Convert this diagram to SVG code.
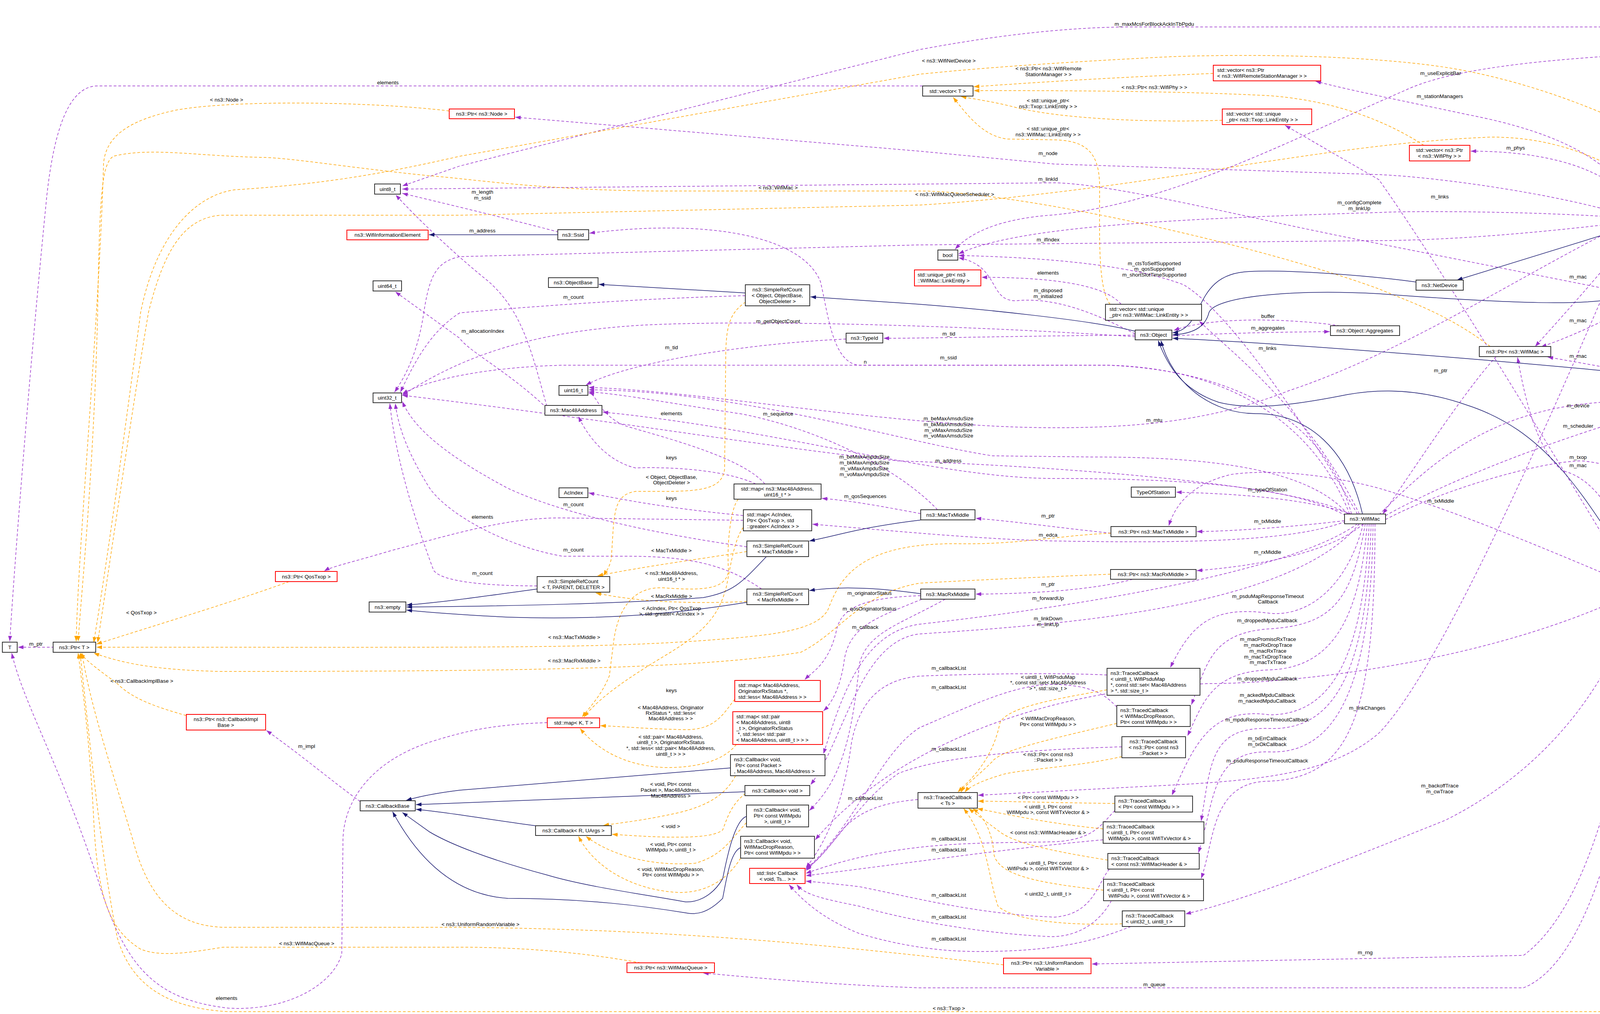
<svg xmlns="http://www.w3.org/2000/svg" width="4707" height="2596" viewBox="0 0 4707 2596">
<style>
text{font-family:"Liberation Sans",Arial,sans-serif;font-size:13.5px;fill:#000}
.lb{text-anchor:middle}
.c{text-anchor:middle}
.n rect{fill:#fff;stroke:#333;stroke-width:2}
.r rect{fill:#fff;stroke:#f00;stroke-width:2}
.g rect{fill:#bfbfbf;stroke:#333;stroke-width:2}
.p{fill:none;stroke:#9a32cd;stroke-width:1.5;stroke-dasharray:7,5;marker-end:url(#ap)}
.o{fill:none;stroke:#ffa500;stroke-width:1.5;stroke-dasharray:7,5;marker-end:url(#ao)}
.s{fill:none;stroke:#191970;stroke-width:1.5;marker-end:url(#as)}
</style>
<defs>
<marker id="ap" markerUnits="userSpaceOnUse" markerWidth="15" markerHeight="11" refX="14" refY="5" orient="auto"><path d="M0,0L14,5L0,10z" fill="#9a32cd"/></marker>
<marker id="ao" markerUnits="userSpaceOnUse" markerWidth="15" markerHeight="11" refX="14" refY="5" orient="auto"><path d="M0,0L14,5L0,10z" fill="#ffa500"/></marker>
<marker id="as" markerUnits="userSpaceOnUse" markerWidth="15" markerHeight="11" refX="14" refY="5" orient="auto"><path d="M0,0L14,5L0,10z" fill="#191970"/></marker>
</defs>
<rect width="4707" height="2596" fill="#fff"/>
<g id="edges">
<path class="p" d="M4570,114C4520,60 4400,25 4250,19"/>
<path class="p" d="M4545,139C4480,160 4350,175 4247,177"/>
<path class="p" d="M4540,114C4450,90 4300,69 4200,69L2900,69C2700,69 2500,100 2354,127L1177,425L1030,476"/>
<path class="p" d="M4485,127C4100,140 3750,160 3600,230C3300,360 3000,520 2700,550C2550,560 2480,600 2445,638"/>
<path class="p" d="M4475,565L4287,565"/>
<path class="p" d="M4195,552C4150,420 4000,340 3755,293C3600,260 3450,230 3368,208"/>
<path class="p" d="M4200,552C4150,450 4000,387 3765,387"/>
<path class="p" d="M4165,552C4000,500 3700,455 3531,447L2700,420L2354,387L1319,300"/>
<path class="p" d="M4140,745L3530,624C3200,560 2850,470 2700,468L1030,484"/>
<path class="p" d="M4138,556C3900,540 3600,540 3531,544C3000,560 2600,580 2454,650"/>
<path class="p" d="M4138,572C3900,600 3700,615 3530,616L2354,627L1177,657C1120,670 1100,700 1085,800C1070,900 1040,960 1010,1004"/>
<path class="p" d="M4195,578C4100,700 3990,820 3930,887"/>
<path class="p" d="M4195,769C4120,820 4000,870 3945,888"/>
<path class="p" d="M4130,944L3962,914"/>
<path class="p" d="M3830,913C3750,1000 3620,1200 3540,1316"/>
<path class="p" d="M3530,1318C3650,1200 3800,1050 4100,1030C4300,1000 4350,950 4390,860L4575,580"/>
<path class="p" d="M3547,1320C3800,1180 4200,1050 4510,979"/>
<path class="p" d="M3547,1330C3700,1250 3950,1180 4050,1180C4250,1200 4450,1350 4566,1496"/>
<path class="p" d="M4205,1498C4150,1350 4100,1230 4000,1205C3930,1150 3900,1000 3885,915"/>
<path class="p" d="M4506,1511L4256,1511"/>
<path class="p" d="M4483,957L4319,957"/>
<path class="p" d="M4176,1498C3900,1380 3700,1300 3530,1250C3400,1215 3250,1200 3150,1215C3050,1240 3010,1290 2992,1346"/>
<path class="p" d="M4180,1498C4000,1200 3700,700 3530,460L3290,321"/>
<path class="p" d="M4190,1524C4140,1700 4000,1950 3700,2100C3400,2220 3200,2300 3035,2340"/>
<path class="p" d="M4200,1524C4180,1800 4100,2300 3900,2446L2795,2468"/>
<path class="p" d="M4215,1524C4200,1900 4100,2450 3900,2529L2354,2529C2100,2520 1900,2500 1800,2491"/>
<path class="p" d="M3460,1316C3350,1280 3200,1265 3011,1260"/>
<path class="p" d="M3442,1333C3300,1350 3150,1360 3064,1361"/>
<path class="p" d="M3490,1341C3400,1420 3200,1450 3064,1461"/>
<path class="p" d="M3475,1341C3300,1470 2700,1560 2354,1598C2200,1620 2150,1800 2108,1930"/>
<path class="p" d="M3480,1341C3300,1560 2700,1600 2354,1623C2200,1640 2160,1900 2075,2009"/>
<path class="p" d="M2420,1534C2300,1600 2220,1620 2200,1700C2180,1900 2150,2000 2072,2075"/>
<path class="p" d="M3490,1341C3450,1500 3350,1580 3250,1570C3100,1550 3050,1600 2996,1709"/>
<path class="p" d="M3495,1341C3460,1550 3400,1600 3250,1610C3100,1620 3090,1700 3050,1804"/>
<path class="p" d="M4176,1520C3800,1700 3300,1750 3100,1750C2700,1760 2300,1900 2087,2150"/>
<path class="p" d="M3500,1341C3480,1600 3400,1710 3250,1715C3100,1720 3080,1800 3040,1884"/>
<path class="p" d="M3505,1341C3490,1700 3400,1830 3250,1830C3100,1810 3060,1900 3000,2036"/>
<path class="p" d="M3510,1341C3500,1750 3400,1870 3250,1865C3100,1860 3100,1950 3075,2102"/>
<path class="p" d="M3515,1341C3510,1800 3400,1930 3250,1925C3100,1920 3110,2050 3068,2183"/>
<path class="p" d="M3520,1341C3520,1850 3450,1990 3250,2000C3100,2000 3110,2150 3075,2249"/>
<path class="p" d="M4180,578C4000,1000 3700,1700 3531,1876C3400,1990 3200,2000 2900,2015L2504,2036"/>
<path class="p" d="M3445,1320C3300,1240 3000,1225 2700,1225C2400,1225 2000,1100 1543,1055"/>
<path class="p" d="M3450,1316C3350,1200 3100,1170 2800,1170L2541,1167C2300,1130 1900,1000 1507,998"/>
<path class="p" d="M3455,1316C3300,1230 2600,1190 2300,1180C2000,1150 1600,1080 1030,1012"/>
<path class="p" d="M4150,578C3900,700 3600,900 3300,1000C3100,1080 2900,1095 2700,1095C2300,1095 1800,1000 1507,992"/>
<path class="p" d="M3460,1316C3400,1100 3200,950 2835,935L2200,935C2130,930 2120,800 2100,720C2050,600 1800,560 1509,597"/>
<path class="p" d="M3455,1316C3350,1050 3100,940 2835,935L1440,935C1250,940 1100,970 1030,1008"/>
<path class="p" d="M3475,1316C3350,1100 3150,800 3030,729C2900,680 2700,660 2454,654"/>
<path class="p" d="M2906,855C2800,800 2700,760 2600,770C2530,770 2560,680 2454,660"/>
<path class="p" d="M2870,779C2830,730 2700,710 2513,710"/>
<path class="p" d="M3480,1316C3350,1050 3150,900 3070,822"/>
<path class="p" d="M3430,834C3300,815 3100,810 3005,846"/>
<path class="p" d="M3002,860C3150,852 3300,850 3404,849"/>
<path class="p" d="M2906,858C2600,860 2400,866 2262,866"/>
<path class="p" d="M2906,862C2500,835 2000,820 1700,830C1400,840 1200,900 1030,1012"/>
<path class="p" d="M2166,868C1900,880 1600,930 1500,986"/>
<path class="p" d="M1400,1040C1360,900 1340,800 1250,720C1150,640 1050,540 1013,499"/>
<path class="p" d="M1430,594C1300,560 1177,530 1030,495"/>
<path class="p" d="M1400,1045C1300,950 1200,900 1177,866L1012,747"/>
<path class="p" d="M1908,757C1600,765 1300,790 1177,801C1100,850 1060,930 1025,1004"/>
<path class="p" d="M1375,1500C1250,1500 1130,1490 1110,1460C1050,1300 1010,1150 998,1033"/>
<path class="p" d="M1912,1400C1700,1370 1450,1320 1300,1250C1150,1170 1060,1100 1030,1028"/>
<path class="p" d="M1950,1508C1850,1440 1750,1424 1600,1424L1440,1424C1300,1400 1150,1320 1100,1250C1050,1170 1020,1100 1012,1033"/>
<path class="p" d="M2844,1365C2700,1350 2600,1335 2498,1327"/>
<path class="p" d="M2900,1483C2800,1510 2650,1520 2498,1521"/>
<path class="p" d="M2400,1305C2300,1200 2100,1100 1900,1060C1700,1030 1600,1010 1507,1003"/>
<path class="p" d="M2357,1315C2250,1295 2180,1282 2104,1276"/>
<path class="p" d="M1935,1239C1850,1200 1700,1195 1627,1198C1550,1180 1500,1110 1481,1066"/>
<path class="p" d="M1958,1239C1900,1170 1700,1120 1600,1090C1530,1060 1530,1010 1507,1006"/>
<path class="p" d="M1903,1320C1700,1300 1600,1280 1507,1262"/>
<path class="p" d="M1903,1332L1440,1326C1300,1325 1177,1363 1000,1410C900,1440 850,1450 830,1462"/>
<path class="p" d="M3445,1335C3300,1390 3000,1390 2700,1385C2500,1380 2300,1360 2080,1342"/>
<path class="p" d="M2357,1525C2200,1530 2150,1560 2140,1620C2120,1700 2080,1720 2060,1740"/>
<path class="p" d="M2360,1534C2250,1580 2170,1600 2160,1700C2150,1760 2130,1800 2108,1820"/>
<path class="p" d="M1401,1850C1250,1855 1177,1876 1100,1900C950,1950 880,2050 878,2150L875,2440C860,2510 750,2590 585,2581C400,2560 320,2480 250,2250C150,1950 60,1800 30,1672"/>
<path class="p" d="M2350,2047C2250,2055 2200,2080 2160,2120C2120,2170 2100,2200 2063,2224"/>
<path class="p" d="M2834,1728C2700,1722 2500,1725 2354,1731C2250,1740 2200,1800 2180,1900C2160,2050 2120,2150 2063,2222"/>
<path class="p" d="M2859,1810C2830,1780 2800,1755 2700,1752C2600,1752 2500,1800 2354,1863C2250,1930 2200,2100 2063,2226"/>
<path class="p" d="M2872,1912C2600,1920 2400,1940 2300,1980C2200,2050 2150,2150 2063,2229"/>
<path class="p" d="M2854,2075C2820,2110 2800,2150 2700,2155C2500,2160 2300,2150 2063,2236"/>
<path class="p" d="M2824,2150C2600,2170 2400,2200 2063,2242"/>
<path class="p" d="M2840,2225C2810,2260 2800,2340 2700,2348C2500,2340 2350,2300 2200,2270C2130,2262 2090,2258 2063,2256"/>
<path class="p" d="M2845,2306C2810,2370 2750,2398 2692,2398C2500,2390 2300,2350 2200,2320C2100,2300 2060,2290 2040,2265"/>
<path class="p" d="M2895,2372C2800,2410 2700,2436 2504,2436C2400,2436 2300,2420 2200,2390C2100,2350 2050,2300 2020,2265"/>
<path class="p" d="M922,2052C850,2000 780,1940 682,1870"/>
<path class="p" d="M175,1657L46,1657"/>
<path class="p" d="M2362,220L250,220C180,220 140,320 120,500C80,900 40,1400 25,1642"/>
<path class="o" d="M3106,188C2800,200 2600,215 2493,222"/>
<path class="o" d="M3645,372C3580,330 3450,260 3250,245C3000,232 2700,232 2493,232"/>
<path class="o" d="M3129,308C2900,315 2700,300 2600,275C2550,262 2520,258 2460,247"/>
<path class="o" d="M2842,779C2810,740 2815,600 2815,480C2815,400 2790,360 2700,358L2580,356C2520,350 2480,300 2440,249"/>
<path class="o" d="M1150,284C950,260 600,255 450,282C320,310 270,354 265,420C255,800 200,1400 195,1642"/>
<path class="o" d="M3815,887C3700,800 3600,770 3531,740C3200,620 2600,490 2354,489L1700,489C1400,489 1177,455 1100,450C900,430 750,405 676,403C500,400 390,376 290,400C260,420 255,500 250,800C240,1200 210,1500 200,1642"/>
<path class="o" d="M4573,937C4520,800 4400,600 4300,540C4150,420 4000,350 3815,351C3600,360 3400,390 3200,420C2900,470 2600,510 2354,525L1177,551L563,551C470,560 420,640 380,800C330,1100 280,1450 250,1645"/>
<path class="o" d="M4566,552C4400,430 4100,250 3755,182C3600,150 3300,135 3000,145C2700,160 2500,175 2354,190L1177,400C1000,440 850,470 600,486C500,500 400,600 360,800C320,1100 280,1400 240,1645"/>
<path class="o" d="M2844,1365C2700,1372 2600,1395 2450,1392C2200,1390 2150,1480 2120,1560C2090,1620 1950,1628 1800,1640C1500,1660 1300,1657 247,1657"/>
<path class="o" d="M2843,1470C2600,1480 2400,1490 2354,1493C2200,1520 2150,1620 2050,1670C1800,1710 1400,1719 563,1719C400,1715 320,1700 240,1672"/>
<path class="o" d="M740,1489C600,1540 400,1600 247,1649"/>
<path class="o" d="M477,1832C400,1810 340,1790 300,1750C260,1720 230,1700 205,1672"/>
<path class="o" d="M2569,2470C2200,2430 1800,2380 1177,2374L571,2374C450,2370 380,2300 340,2150C280,1950 230,1800 210,1672"/>
<path class="o" d="M1640,2465C1500,2440 1350,2425 1177,2425L571,2425C480,2440 410,2450 360,2430C280,2380 250,2300 240,2100C230,1900 210,1750 200,1672"/>
<path class="o" d="M4585,1524C4560,1800 4500,2200 4400,2450C4330,2570 4280,2590 4200,2590L585,2590C400,2580 330,2500 300,2400C260,2200 230,1900 205,1672"/>
<path class="o" d="M1909,773C1870,800 1860,830 1858,900L1855,1200C1850,1250 1800,1258 1700,1258L1627,1258C1580,1265 1575,1300 1570,1350L1565,1430C1560,1455 1550,1465 1545,1474"/>
<path class="o" d="M1912,1412C1800,1430 1650,1450 1530,1474"/>
<path class="o" d="M1912,1540C1800,1545 1650,1545 1525,1518"/>
<path class="o" d="M1890,1278C1870,1300 1860,1400 1865,1460C1860,1510 1800,1512 1700,1505C1620,1500 1580,1560 1570,1650L1560,1730C1540,1780 1510,1810 1490,1836"/>
<path class="o" d="M1903,1350C1880,1380 1870,1450 1860,1500C1840,1580 1800,1620 1700,1680C1600,1740 1530,1790 1495,1836"/>
<path class="o" d="M1881,1790C1850,1830 1830,1870 1750,1868C1650,1866 1600,1860 1537,1858"/>
<path class="o" d="M1885,1906C1850,1950 1780,1966 1700,1965C1600,1960 1530,1920 1485,1865"/>
<path class="o" d="M1883,1986C1860,2030 1820,2060 1740,2080C1650,2100 1600,2105 1545,2113"/>
<path class="o" d="M1909,2031C1870,2060 1860,2100 1850,2125C1820,2150 1700,2145 1567,2136"/>
<path class="o" d="M1911,2106C1870,2150 1850,2190 1780,2210C1650,2220 1550,2180 1500,2141"/>
<path class="o" d="M1896,2197C1870,2240 1820,2285 1740,2285C1620,2280 1520,2220 1481,2141"/>
<path class="o" d="M2834,1766C2700,1790 2580,1810 2560,1850C2540,1950 2480,2000 2452,2028"/>
<path class="o" d="M2859,1852C2700,1890 2560,1920 2540,1950C2500,1990 2470,2010 2460,2028"/>
<path class="o" d="M2872,1937C2750,1965 2600,1970 2560,1985C2510,2000 2480,2015 2470,2028"/>
<path class="o" d="M2854,2057C2700,2055 2600,2052 2504,2051"/>
<path class="o" d="M2824,2122C2700,2110 2600,2090 2502,2070"/>
<path class="o" d="M2836,2202C2700,2180 2600,2160 2560,2130C2520,2100 2500,2085 2480,2070"/>
<path class="o" d="M2825,2279C2650,2260 2560,2240 2545,2190C2540,2130 2520,2090 2490,2070"/>
<path class="o" d="M2873,2365C2750,2370 2600,2360 2555,2320C2530,2250 2530,2150 2467,2070"/>
<path class="s" d="M4578,139L4224,745"/>
<path class="s" d="M4180,578L3730,717"/>
<path class="s" d="M3625,722C3500,705 3300,690 3200,695C3050,700 3090,840 3002,852"/>
<path class="s" d="M4138,765C4050,780 3900,780 3530,752C3300,740 3110,760 3095,800C3085,840 3050,855 3002,857"/>
<path class="s" d="M4105,949C3800,920 3300,880 3002,866"/>
<path class="s" d="M3488,1316C3450,1150 3350,1060 3217,1059C3100,1060 3000,980 2972,872"/>
<path class="s" d="M4198,1498C4050,1250 3950,1100 3755,1037C3650,1000 3550,992 3450,1010C3300,1040 3200,1050 3120,1030C3030,1000 2990,940 2965,872"/>
<path class="s" d="M2906,848C2800,820 2500,790 2354,779L2075,760"/>
<path class="s" d="M1908,750L1533,728"/>
<path class="s" d="M1428,601L1098,601"/>
<path class="s" d="M2360,1331C2200,1350 2150,1370 2072,1385"/>
<path class="s" d="M2357,1520C2250,1505 2150,1500 2072,1512"/>
<path class="s" d="M1962,1425C1900,1490 1880,1515 1800,1530C1600,1545 1300,1552 1041,1554"/>
<path class="s" d="M1375,1508C1250,1525 1150,1540 1041,1549"/>
<path class="s" d="M1912,1542C1800,1560 1600,1590 1300,1580C1200,1575 1100,1568 1041,1562"/>
<path class="s" d="M1870,1966L1177,2023C1120,2030 1070,2040 1040,2049"/>
<path class="s" d="M1907,2027L1065,2060"/>
<path class="s" d="M1371,2114C1250,2098 1150,2080 1065,2072"/>
<path class="s" d="M1911,2090C1880,2100 1860,2200 1850,2250C1820,2300 1780,2310 1755,2309C1650,2290 1500,2270 1400,2240C1250,2200 1150,2160 1100,2130L1030,2080"/>
<path class="s" d="M1896,2170C1870,2180 1860,2250 1850,2300C1810,2340 1780,2342 1755,2337C1650,2320 1500,2300 1300,2300C1150,2290 1060,2180 1005,2078"/>
</g>
<g id="labels">
<text class="lb" x="993" y="216">elements</text>
<text class="lb" x="580" y="260">&lt; ns3::Node &gt;</text>
<text class="lb" x="1235" y="496">m_length</text><text class="lb" x="1235" y="511">m_ssid</text>
<text class="lb" x="1235" y="595">m_address</text>
<text class="lb" x="1992" y="485">&lt; ns3::WifiMac &gt;</text>
<text class="lb" x="2444" y="502">&lt; ns3::WifiMacQueueScheduler &gt;</text>
<text class="lb" x="1468" y="765">m_count</text>
<text class="lb" x="1992" y="827">m_getObjectCount</text>
<text class="lb" x="1236" y="852">m_allocationIndex</text>
<text class="lb" x="2955" y="66">m_maxMcsForBlockAckInTbPpdu</text>
<text class="lb" x="2429" y="160">&lt; ns3::WifiNetDevice &gt;</text>
<text class="lb" x="2684" y="180">&lt; ns3::Ptr&lt; ns3::WifiRemote</text><text class="lb" x="2684" y="195">StationManager &gt; &gt;</text>
<text class="lb" x="2955" y="228">&lt; ns3::Ptr&lt; ns3::WifiPhy &gt; &gt;</text>
<text class="lb" x="2683" y="262">&lt; std::unique_ptr&lt;</text><text class="lb" x="2683" y="277">ns3::Txop::LinkEntity &gt; &gt;</text>
<text class="lb" x="2683" y="334">&lt; std::unique_ptr&lt;</text><text class="lb" x="2683" y="349">ns3::WifiMac::LinkEntity &gt; &gt;</text>
<text class="lb" x="2683" y="397">m_node</text>
<text class="lb" x="2683" y="463">m_linkId</text>
<text class="lb" x="3480" y="523">m_configComplete</text><text class="lb" x="3480" y="538">m_linkUp</text>
<text class="lb" x="2683" y="618">m_ifIndex</text>
<text class="lb" x="2955" y="679">m_ctsToSelfSupported</text><text class="lb" x="2955" y="693">m_qosSupported</text><text class="lb" x="2955" y="708">m_shortSlotTimeSupported</text>
<text class="lb" x="2683" y="703">elements</text>
<text class="lb" x="2683" y="748">m_disposed</text><text class="lb" x="2683" y="763">m_initialized</text>
<text class="lb" x="3246" y="814">buffer</text>
<text class="lb" x="3246" y="844">m_aggregates</text>
<text class="lb" x="2429" y="859">m_tid</text>
<text class="lb" x="4397" y="22">m_dlMuAckType</text>
<text class="lb" x="4397" y="155">m_baThreshold</text>
<text class="lb" x="3688" y="192">m_useExplicitBar</text>
<text class="lb" x="3686" y="251">m_stationManagers</text>
<text class="lb" x="3880" y="383">m_phys</text>
<text class="lb" x="3686" y="508">m_links</text>
<text class="lb" x="4397" y="561">m_ptr</text>
<text class="lb" x="4040" y="713">m_mac</text>
<text class="lb" x="4040" y="825">m_mac</text>
<text class="lb" x="4040" y="916">m_mac</text>
<text class="lb" x="4399" y="953">m_ptr</text>
<text class="lb" x="3688" y="953">m_ptr</text>
<text class="lb" x="4040" y="1043">m_device</text>
<text class="lb" x="4040" y="1095">m_scheduler</text>
<text class="lb" x="4040" y="1175">m_txop</text><text class="lb" x="4040" y="1196">m_mac</text>
<text class="lb" x="3688" y="1287">m_txMiddle</text>
<text class="lb" x="4399" y="1508">m_ptr</text>
<text class="lb" x="1719" y="894">m_tid</text>
<text class="lb" x="2215" y="931">n</text>
<text class="lb" x="1719" y="1063">elements</text>
<text class="lb" x="1992" y="1064">m_sequence</text>
<text class="lb" x="1719" y="1176">keys</text>
<text class="lb" x="2213" y="1174">m_beMaxAmpduSize</text><text class="lb" x="2213" y="1189">m_bkMaxAmpduSize</text><text class="lb" x="2213" y="1204">m_viMaxAmpduSize</text><text class="lb" x="2213" y="1219">m_voMaxAmpduSize</text>
<text class="lb" x="1719" y="1226">&lt; Object, ObjectBase,</text><text class="lb" x="1719" y="1240">ObjectDeleter &gt;</text>
<text class="lb" x="1719" y="1280">keys</text>
<text class="lb" x="2215" y="1275">m_qosSequences</text>
<text class="lb" x="1468" y="1296">m_count</text>
<text class="lb" x="1235" y="1328">elements</text>
<text class="lb" x="1468" y="1412">m_count</text>
<text class="lb" x="1719" y="1414">&lt; MacTxMiddle &gt;</text>
<text class="lb" x="1719" y="1472">&lt; ns3::Mac48Address,</text><text class="lb" x="1719" y="1487">uint16_t * &gt;</text>
<text class="lb" x="1235" y="1472">m_count</text>
<text class="lb" x="1719" y="1531">&lt; MacRxMiddle &gt;</text>
<text class="lb" x="1719" y="1562">&lt; AcIndex, Ptr&lt; QosTxop</text><text class="lb" x="1719" y="1576">&gt;, std::greater&lt; AcIndex &gt; &gt;</text>
<text class="lb" x="2226" y="1523">m_originatorStatus</text>
<text class="lb" x="2226" y="1563">m_qosOriginatorStatus</text>
<text class="lb" x="2215" y="1610">m_callback</text>
<text class="lb" x="1470" y="1636">&lt; ns3::MacTxMiddle &gt;</text>
<text class="lb" x="1470" y="1696">&lt; ns3::MacRxMiddle &gt;</text>
<text class="lb" x="3245" y="896">m_links</text>
<text class="lb" x="2428" y="920">m_ssid</text>
<text class="lb" x="2428" y="1076">m_beMaxAmsduSize</text><text class="lb" x="2428" y="1091">m_bkMaxAmsduSize</text><text class="lb" x="2428" y="1106">m_viMaxAmsduSize</text><text class="lb" x="2428" y="1120">m_voMaxAmsduSize</text>
<text class="lb" x="2955" y="1080">m_mtu</text>
<text class="lb" x="2428" y="1184">m_address</text>
<text class="lb" x="3245" y="1258">m_typeOfStation</text>
<text class="lb" x="2683" y="1325">m_ptr</text>
<text class="lb" x="3245" y="1339">m_txMiddle</text>
<text class="lb" x="2683" y="1374">m_edca</text>
<text class="lb" x="3245" y="1418">m_rxMiddle</text>
<text class="lb" x="2683" y="1500">m_ptr</text>
<text class="lb" x="2683" y="1536">m_forwardUp</text>
<text class="lb" x="3246" y="1531">m_psduMapResponseTimeout</text><text class="lb" x="3246" y="1545">Callback</text>
<text class="lb" x="2683" y="1588">m_linkDown</text><text class="lb" x="2683" y="1603">m_linkUp</text>
<text class="lb" x="3244" y="1593">m_droppedMpduCallback</text>
<text class="lb" x="3246" y="1641">m_macPromiscRxTrace</text><text class="lb" x="3246" y="1656">m_macRxDropTrace</text><text class="lb" x="3246" y="1671">m_macRxTrace</text><text class="lb" x="3246" y="1686">m_macTxDropTrace</text><text class="lb" x="3246" y="1700">m_macTxTrace</text>
<text class="lb" x="2429" y="1715">m_callbackList</text>
<text class="lb" x="362" y="1573">&lt; QosTxop &gt;</text>
<text class="lb" x="92" y="1653">m_ptr</text>
<text class="lb" x="363" y="1748">&lt; ns3::CallbackImplBase &gt;</text>
<text class="lb" x="785" y="1915">m_impl</text>
<text class="lb" x="1230" y="2371">&lt; ns3::UniformRandomVariable &gt;</text>
<text class="lb" x="785" y="2420">&lt; ns3::WifiMacQueue &gt;</text>
<text class="lb" x="580" y="2560">elements</text>
<text class="lb" x="1719" y="1772">keys</text>
<text class="lb" x="1717" y="1816">&lt; Mac48Address, Originator</text><text class="lb" x="1717" y="1830">RxStatus *, std::less&lt;</text><text class="lb" x="1717" y="1844">Mac48Address &gt; &gt;</text>
<text class="lb" x="1717" y="1891">&lt; std::pair&lt; Mac48Address,</text><text class="lb" x="1717" y="1905">uint8_t &gt;, OriginatorRxStatus</text><text class="lb" x="1717" y="1920">*, std::less&lt; std::pair&lt; Mac48Address,</text><text class="lb" x="1717" y="1935">uint8_t &gt; &gt; &gt;</text>
<text class="lb" x="1717" y="2012">&lt; void, Ptr&lt; const</text><text class="lb" x="1717" y="2027">Packet &gt;, Mac48Address,</text><text class="lb" x="1717" y="2042">Mac48Address &gt;</text>
<text class="lb" x="1717" y="2120">&lt; void &gt;</text>
<text class="lb" x="1717" y="2166">&lt; void, Ptr&lt; const</text><text class="lb" x="1717" y="2180">WifiMpdu &gt;, uint8_t &gt;</text>
<text class="lb" x="1717" y="2230">&lt; void, WifiMacDropReason,</text><text class="lb" x="1717" y="2244">Ptr&lt; const WifiMpdu &gt; &gt;</text>
<text class="lb" x="2215" y="2048">m_callbackList</text>
<text class="lb" x="2683" y="1738">&lt; uint8_t, WifiPsduMap</text><text class="lb" x="2683" y="1752">*, const std::set&lt; Mac48Address</text><text class="lb" x="2683" y="1767">&gt; *, std::size_t &gt;</text>
<text class="lb" x="3244" y="1742">m_droppedMpduCallback</text>
<text class="lb" x="2429" y="1764">m_callbackList</text>
<text class="lb" x="3244" y="1784">m_ackedMpduCallback</text><text class="lb" x="3244" y="1799">m_nackedMpduCallback</text>
<text class="lb" x="3500" y="1817">m_linkChanges</text>
<text class="lb" x="2683" y="1844">&lt; WifiMacDropReason,</text><text class="lb" x="2683" y="1859">Ptr&lt; const WifiMpdu &gt; &gt;</text>
<text class="lb" x="3244" y="1847">m_mpduResponseTimeoutCallback</text>
<text class="lb" x="3244" y="1895">m_txErrCallback</text><text class="lb" x="3244" y="1910">m_txOkCallback</text>
<text class="lb" x="2429" y="1922">m_callbackList</text>
<text class="lb" x="2683" y="1936">&lt; ns3::Ptr&lt; const ns3</text><text class="lb" x="2683" y="1950">::Packet &gt; &gt;</text>
<text class="lb" x="3244" y="1952">m_psduResponseTimeoutCallback</text>
<text class="lb" x="3686" y="2016">m_backoffTrace</text><text class="lb" x="3686" y="2031">m_cwTrace</text>
<text class="lb" x="2683" y="2046">&lt; Ptr&lt; const WifiMpdu &gt; &gt;</text>
<text class="lb" x="2683" y="2070">&lt; uint8_t, Ptr&lt; const</text><text class="lb" x="2683" y="2084">WifiMpdu &gt;, const WifiTxVector &amp; &gt;</text>
<text class="lb" x="2683" y="2136">&lt; const ns3::WifiMacHeader &amp; &gt;</text>
<text class="lb" x="2429" y="2152">m_callbackList</text>
<text class="lb" x="2429" y="2180">m_callbackList</text>
<text class="lb" x="2683" y="2214">&lt; uint8_t, Ptr&lt; const</text><text class="lb" x="2683" y="2228">WifiPsdu &gt;, const WifiTxVector &amp; &gt;</text>
<text class="lb" x="2683" y="2293">&lt; uint32_t, uint8_t &gt;</text>
<text class="lb" x="2429" y="2296">m_callbackList</text>
<text class="lb" x="2429" y="2352">m_callbackList</text>
<text class="lb" x="2429" y="2408">m_callbackList</text>
<text class="lb" x="3495" y="2443">m_rng</text>
<text class="lb" x="2955" y="2525">m_queue</text>
<text class="lb" x="2429" y="2586">&lt; ns3::Txop &gt;</text>
</g>
<g id="WifiDefaultAckManager" class="g"><rect x="4485" y="114" width="206" height="25"/><text class="c" x="4588" y="131">ns3::WifiDefaultAckManager</text></g>
<g id="Method" class="n"><rect x="4177" y="6" width="71" height="26"/><text class="c" x="4212" y="24">Method</text></g>
<g id="double" class="n"><rect x="4179" y="165" width="66" height="25"/><text class="c" x="4212" y="182">double</text></g>
<g id="vecPhy" class="r"><rect x="3608" y="372" width="155" height="40"/><text class="c" x="3685" y="389">std::vector&lt; ns3::Ptr<tspan x="3685" dy="15">&lt; ns3::WifiPhy &gt; &gt;</tspan></text></g>
<g id="WifiNetDevice" class="r"><rect x="4138" y="552" width="147" height="26"/><text class="c" x="4211" y="570">ns3::WifiNetDevice</text></g>
<g id="PtrWifiNetDevice" class="n"><rect x="4475" y="552" width="225" height="26"/><text class="c" x="4587" y="570">ns3::Ptr&lt; ns3::WifiNetDevice &gt;</text></g>
<g id="NetDevice" class="n"><rect x="3625" y="717" width="121" height="26"/><text class="c" x="3685" y="735">ns3::NetDevice</text></g>
<g id="WifiAckManager" class="n"><rect x="4133" y="745" width="157" height="24"/><text class="c" x="4211" y="762">ns3::WifiAckManager</text></g>
<g id="Aggregates" class="n"><rect x="3406" y="834" width="177" height="25"/><text class="c" x="3494" y="851">ns3::Object::Aggregates</text></g>
<g id="vectorT" class="n"><rect x="2362" y="220" width="129" height="26"/><text class="c" x="2426" y="238">std::vector&lt; T &gt;</text></g>
<g id="vecWRSM" class="r"><rect x="3106" y="167" width="275" height="40"/><text x="3116" y="184">std::vector&lt; ns3::Ptr<tspan x="3116" dy="15">&lt; ns3::WifiRemoteStationManager &gt; &gt;</tspan></text></g>
<g id="vecTxopLE" class="r"><rect x="3129" y="279" width="229" height="40"/><text x="3139" y="296">std::vector&lt; std::unique<tspan x="3139" dy="15">_ptr&lt; ns3::Txop::LinkEntity &gt; &gt;</tspan></text></g>
<g id="bool" class="n"><rect x="2401" y="640" width="51" height="26"/><text class="c" x="2426" y="658">bool</text></g>
<g id="upMacLE" class="r"><rect x="2341" y="691" width="170" height="41"/><text x="2349" y="708">std::unique_ptr&lt; ns3<tspan x="2349" dy="15">::WifiMac::LinkEntity &gt;</tspan></text></g>
<g id="vecMacLE" class="n"><rect x="2830" y="779" width="246" height="41"/><text x="2840" y="796">std::vector&lt; std::unique<tspan x="2840" dy="15">_ptr&lt; ns3::WifiMac::LinkEntity &gt; &gt;</tspan></text></g>
<g id="Object" class="n"><rect x="2906" y="845" width="94" height="25"/><text class="c" x="2953" y="862">ns3::Object</text></g>
<g id="PtrNode" class="r"><rect x="1150" y="279" width="167" height="25"/><text class="c" x="1233" y="296">ns3::Ptr&lt; ns3::Node &gt;</text></g>
<g id="Ssid" class="n"><rect x="1428" y="588" width="79" height="26"/><text class="c" x="1467" y="606">ns3::Ssid</text></g>
<g id="ObjectBase" class="n"><rect x="1404" y="711" width="127" height="25"/><text class="c" x="1467" y="728">ns3::ObjectBase</text></g>
<g id="SRCObject" class="n"><rect x="1908" y="729" width="165" height="54"/><text class="c" x="1990" y="746">ns3::SimpleRefCount<tspan x="1990" dy="15">&lt; Object, ObjectBase,</tspan><tspan x="1990" dy="15">ObjectDeleter &gt;</tspan></text></g>
<g id="TypeId" class="n"><rect x="2166" y="853" width="94" height="25"/><text class="c" x="2213" y="870">ns3::TypeId</text></g>
<g id="uint8_t" class="n"><rect x="959" y="471" width="66" height="26"/><text class="c" x="992" y="489">uint8_t</text></g>
<g id="WifiInformationElement" class="r"><rect x="888" y="589" width="208" height="25"/><text class="c" x="992" y="606">ns3::WifiInformationElement</text></g>
<g id="uint64_t" class="n"><rect x="955" y="719" width="73" height="26"/><text class="c" x="991" y="737">uint64_t</text></g>
<g id="uint32_t" class="n"><rect x="955" y="1006" width="73" height="25"/><text class="c" x="991" y="1023">uint32_t</text></g>
<g id="PtrQosTxop" class="r"><rect x="705" y="1463" width="158" height="26"/><text class="c" x="784" y="1481">ns3::Ptr&lt; QosTxop &gt;</text></g>
<g id="empty" class="n"><rect x="945" y="1541" width="94" height="26"/><text class="c" x="992" y="1559">ns3::empty</text></g>
<g id="T" class="n"><rect x="6" y="1644" width="38" height="26"/><text class="c" x="25" y="1662">T</text></g>
<g id="PtrT" class="n"><rect x="136" y="1644" width="109" height="26"/><text class="c" x="190" y="1662">ns3::Ptr&lt; T &gt;</text></g>
<g id="uint16_t" class="n"><rect x="1431" y="987" width="74" height="25"/><text class="c" x="1468" y="1004">uint16_t</text></g>
<g id="Mac48Address" class="n"><rect x="1395" y="1038" width="146" height="25"/><text class="c" x="1468" y="1055">ns3::Mac48Address</text></g>
<g id="AcIndex" class="n"><rect x="1431" y="1249" width="74" height="25"/><text class="c" x="1468" y="1266">AcIndex</text></g>
<g id="mapMacU16" class="n"><rect x="1879" y="1239" width="223" height="39"/><text class="c" x="1990" y="1256">std::map&lt; ns3::Mac48Address,<tspan x="1990" dy="15">uint16_t * &gt;</tspan></text></g>
<g id="mapAcIndex" class="n"><rect x="1903" y="1305" width="175" height="54"/><text x="1912" y="1322">std::map&lt; AcIndex,<tspan x="1912" dy="15">Ptr&lt; QosTxop &gt;, std</tspan><tspan x="1912" dy="15">::greater&lt; AcIndex &gt; &gt;</tspan></text></g>
<g id="SRCMacTx" class="n"><rect x="1912" y="1385" width="158" height="40"/><text class="c" x="1991" y="1402">ns3::SimpleRefCount<tspan x="1991" dy="15">&lt; MacTxMiddle &gt;</tspan></text></g>
<g id="SRCTPD" class="n"><rect x="1375" y="1476" width="186" height="40"/><text class="c" x="1468" y="1493">ns3::SimpleRefCount<tspan x="1468" dy="15">&lt; T, PARENT, DELETER &gt;</tspan></text></g>
<g id="SRCMacRx" class="n"><rect x="1912" y="1508" width="158" height="40"/><text class="c" x="1991" y="1525">ns3::SimpleRefCount<tspan x="1991" dy="15">&lt; MacRxMiddle &gt;</tspan></text></g>
<g id="MacTxMiddle" class="n"><rect x="2357" y="1305" width="139" height="26"/><text class="c" x="2426" y="1323">ns3::MacTxMiddle</text></g>
<g id="TypeOfStation" class="n"><rect x="2896" y="1247" width="113" height="26"/><text class="c" x="2952" y="1265">TypeOfStation</text></g>
<g id="PtrMacTx" class="n"><rect x="2844" y="1348" width="218" height="26"/><text class="c" x="2953" y="1366">ns3::Ptr&lt; ns3::MacTxMiddle &gt;</text></g>
<g id="PtrMacRx" class="n"><rect x="2843" y="1458" width="219" height="25"/><text class="c" x="2952" y="1475">ns3::Ptr&lt; ns3::MacRxMiddle &gt;</text></g>
<g id="MacRxMiddle" class="n"><rect x="2357" y="1508" width="139" height="26"/><text class="c" x="2426" y="1526">ns3::MacRxMiddle</text></g>
<g id="WifiMac" class="n"><rect x="3442" y="1316" width="105" height="25"/><text class="c" x="3494" y="1333">ns3::WifiMac</text></g>
<g id="TCPsduMap" class="n"><rect x="2834" y="1711" width="238" height="69"/><text x="2843" y="1728">ns3::TracedCallback<tspan x="2843" dy="15">&lt; uint8_t, WifiPsduMap</tspan><tspan x="2843" dy="15">*, const std::set&lt; Mac48Address</tspan><tspan x="2843" dy="15">&gt; *, std::size_t &gt;</tspan></text></g>
<g id="PtrWifiMac" class="n"><rect x="3787" y="887" width="183" height="26"/><text class="c" x="3878" y="905">ns3::Ptr&lt; ns3::WifiMac &gt;</text></g>
<g id="WifiMacQueueScheduler" class="n"><rect x="4105" y="944" width="212" height="26"/><text class="c" x="4211" y="962">ns3::WifiMacQueueScheduler</text></g>
<g id="PtrWMQS" class="n"><rect x="4483" y="937" width="210" height="41"/><text class="c" x="4588" y="954">ns3::Ptr&lt; ns3::WifiMacQueue<tspan x="4588" dy="15">Scheduler &gt;</tspan></text></g>
<g id="Txop" class="n"><rect x="4170" y="1498" width="84" height="26"/><text class="c" x="4212" y="1516">ns3::Txop</text></g>
<g id="PtrTxop" class="n"><rect x="4506" y="1498" width="163" height="26"/><text class="c" x="4587" y="1516">ns3::Ptr&lt; ns3::Txop &gt;</text></g>
<g id="PtrCallbackImplBase" class="r"><rect x="477" y="1829" width="203" height="40"/><text class="c" x="578" y="1846">ns3::Ptr&lt; ns3::CallbackImpl<tspan x="578" dy="15">Base &gt;</tspan></text></g>
<g id="CallbackBase" class="n"><rect x="922" y="2050" width="141" height="26"/><text class="c" x="992" y="2068">ns3::CallbackBase</text></g>
<g id="mapOrig" class="r"><rect x="1881" y="1742" width="219" height="54"/><text x="1890" y="1759">std::map&lt; Mac48Address,<tspan x="1890" dy="15">OriginatorRxStatus *,</tspan><tspan x="1890" dy="15">std::less&lt; Mac48Address &gt; &gt;</tspan></text></g>
<g id="mapKT" class="r"><rect x="1401" y="1838" width="134" height="25"/><text class="c" x="1468" y="1855">std::map&lt; K, T &gt;</text></g>
<g id="mapPair" class="r"><rect x="1876" y="1822" width="230" height="84"/><text x="1885" y="1839">std::map&lt; std::pair<tspan x="1885" dy="15">&lt; Mac48Address, uint8</tspan><tspan x="1885" dy="15">_t &gt;, OriginatorRxStatus</tspan><tspan x="1885" dy="15"> *, std::less&lt; std::pair</tspan><tspan x="1885" dy="15">&lt; Mac48Address, uint8_t &gt; &gt; &gt;</tspan></text></g>
<g id="CbPacket" class="n"><rect x="1870" y="1932" width="242" height="54"/><text x="1879" y="1949">ns3::Callback&lt; void,<tspan x="1879" dy="15"> Ptr&lt; const Packet &gt;</tspan><tspan x="1879" dy="15">, Mac48Address, Mac48Address &gt;</tspan></text></g>
<g id="CbVoid" class="n"><rect x="1907" y="2011" width="166" height="26"/><text class="c" x="1990" y="2029">ns3::Callback&lt; void &gt;</text></g>
<g id="CbMpdu" class="n"><rect x="1911" y="2061" width="159" height="56"/><text class="c" x="1990" y="2078">ns3::Callback&lt; void,<tspan x="1990" dy="15">Ptr&lt; const WifiMpdu</tspan><tspan x="1990" dy="15">&gt;, uint8_t &gt;</tspan></text></g>
<g id="CbRUArgs" class="n"><rect x="1371" y="2114" width="194" height="25"/><text class="c" x="1468" y="2131">ns3::Callback&lt; R, UArgs &gt;</text></g>
<g id="CbDrop" class="n"><rect x="1896" y="2141" width="189" height="56"/><text x="1905" y="2158">ns3::Callback&lt; void,<tspan x="1905" dy="15">WifiMacDropReason,</tspan><tspan x="1905" dy="15">Ptr&lt; const WifiMpdu &gt; &gt;</tspan></text></g>
<g id="listCallback" class="r"><rect x="1919" y="2223" width="142" height="39"/><text class="c" x="1990" y="2240">std::list&lt; Callback<tspan x="1990" dy="15">&lt; void, Ts... &gt; &gt;</tspan></text></g>
<g id="PtrWifiMacQueue" class="r"><rect x="1605" y="2465" width="224" height="25"/><text class="c" x="1717" y="2482">ns3::Ptr&lt; ns3::WifiMacQueue &gt;</text></g>
<g id="TCTs" class="n"><rect x="2350" y="2029" width="152" height="40"/><text class="c" x="2426" y="2046">ns3::TracedCallback<tspan x="2426" dy="15">&lt; Ts &gt;</tspan></text></g>
<g id="TCDrop" class="n"><rect x="2859" y="1806" width="188" height="54"/><text x="2868" y="1823">ns3::TracedCallback<tspan x="2868" dy="15">&lt; WifiMacDropReason,</tspan><tspan x="2868" dy="15">Ptr&lt; const WifiMpdu &gt; &gt;</tspan></text></g>
<g id="TCPacket" class="n"><rect x="2872" y="1886" width="163" height="54"/><text class="c" x="2953" y="1903">ns3::TracedCallback<tspan x="2953" dy="15">&lt; ns3::Ptr&lt; const ns3</tspan><tspan x="2953" dy="15">::Packet &gt; &gt;</tspan></text></g>
<g id="TCMpdu" class="n"><rect x="2854" y="2038" width="199" height="41"/><text x="2863" y="2055">ns3::TracedCallback<tspan x="2863" dy="15">&lt; Ptr&lt; const WifiMpdu &gt; &gt;</tspan></text></g>
<g id="TCMpduTx" class="n"><rect x="2824" y="2104" width="258" height="55"/><text x="2833" y="2121">ns3::TracedCallback<tspan x="2833" dy="15">&lt; uint8_t, Ptr&lt; const</tspan><tspan x="2833" dy="15"> WifiMpdu &gt;, const WifiTxVector &amp; &gt;</tspan></text></g>
<g id="TCHdr" class="n"><rect x="2836" y="2185" width="234" height="40"/><text x="2845" y="2202">ns3::TracedCallback<tspan x="2845" dy="15">&lt; const ns3::WifiMacHeader &amp; &gt;</tspan></text></g>
<g id="TCPsdu" class="n"><rect x="2825" y="2251" width="256" height="55"/><text x="2834" y="2268">ns3::TracedCallback<tspan x="2834" dy="15">&lt; uint8_t, Ptr&lt; const</tspan><tspan x="2834" dy="15"> WifiPsdu &gt;, const WifiTxVector &amp; &gt;</tspan></text></g>
<g id="TCU32" class="n"><rect x="2873" y="2332" width="160" height="40"/><text x="2882" y="2349">ns3::TracedCallback<tspan x="2882" dy="15">&lt; uint32_t, uint8_t &gt;</tspan></text></g>
<g id="PtrURV" class="r"><rect x="2569" y="2453" width="224" height="40"/><text class="c" x="2681" y="2470">ns3::Ptr&lt; ns3::UniformRandom<tspan x="2681" dy="15">Variable &gt;</tspan></text></g>
</svg>
